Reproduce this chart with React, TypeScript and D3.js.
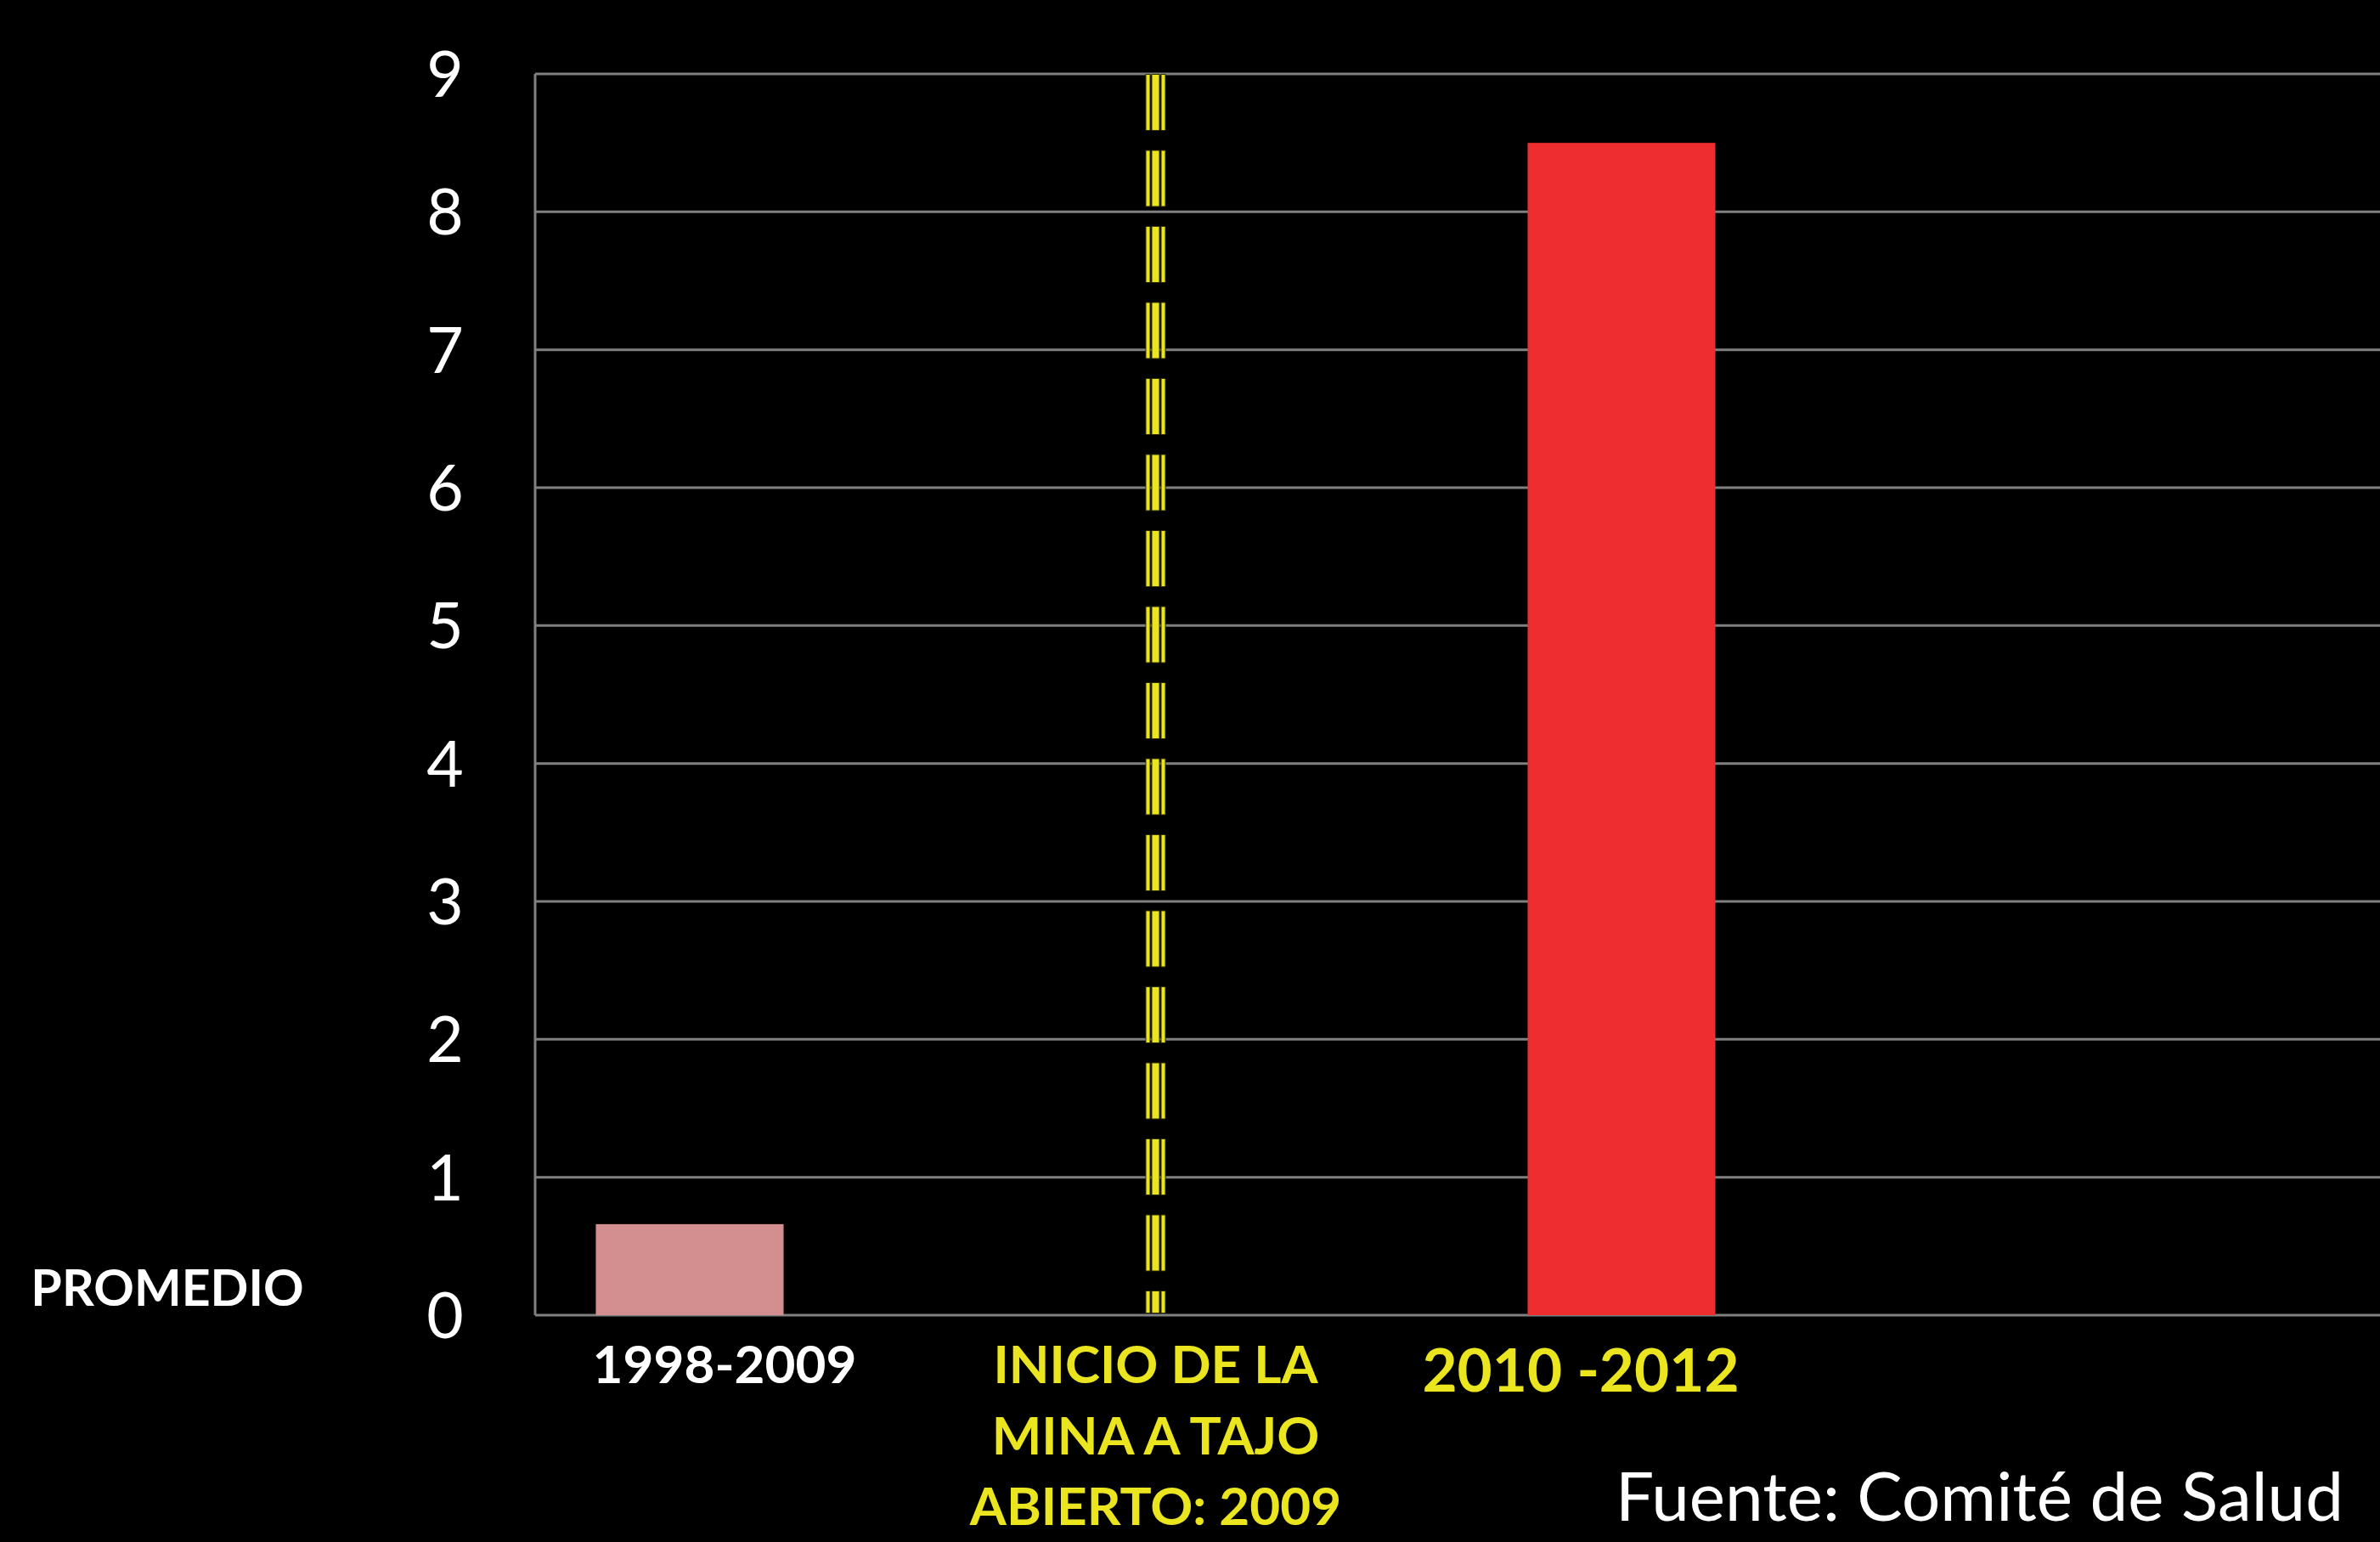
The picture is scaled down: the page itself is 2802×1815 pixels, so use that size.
import React, { useEffect } from "react";
import * as d3 from "d3";

// data
const periods = ["1998-2009", "2010 -2012"];
const promedio = [0.66, 8.5];
const yTicks = [0, 1, 2, 3, 4, 5, 6, 7, 8, 9];
const markerYear = "2009";
const markerLabel = ["INICIO DE LA", "MINA A TAJO", "ABIERTO: 2009"];
const rowLabel = "PROMEDIO";
const source = "Fuente: Comité de Salud";

const W = 2802;
const H = 1815;
const FONT = "Lato, 'Open Sans', sans-serif";
const YELLOW = "#ebe51f";
const GRID = "#7f8080";
const barColors = ["#d38f8f", "#ee2e2e"];

const App: React.FC = () => {
    useEffect(() => {
        document.body.style.margin = "0";
        document.body.style.background = "#000";
    }, []);

    const marginLeft = 630;
    const marginTop = 87;
    const baseY = 1548;

    const y = d3.scaleLinear().domain([0, 9]).range([baseY, marginTop]);

    // bars and the marker line sit on evenly spaced slots
    const x = d3.scalePoint<string>()
        .domain([periods[0], markerYear, periods[1]])
        .range([812, 1909]);
    const barW = x.step() * 0.403;
    const mx = x(markerYear)!;

    // category labels are nudged off the bar centres, as in the slide
    const labelShift = [41, -48];
    const labelSize = [62, 71];
    const labelBase = [1628, 1638];
    const labelFill = ["#ffffff", YELLOW];

    const stripes = [
        { dx: -9, w: 4 },
        { dx: 0, w: 8 },
        { dx: 9, w: 4 },
    ];
    const dash = "67 22.5";

    return (
        <svg width={W} height={H} style={{ display: "block", background: "#000" }}>
            <rect x={0} y={0} width={W} height={H} fill="#000" />

            {/* gridlines */}
            {yTicks.map((t) => (
                <line key={"g" + t} x1={marginLeft} x2={W} y1={y(t)} y2={y(t)}
                    stroke={GRID} strokeWidth={3} />
            ))}
            <line x1={marginLeft} x2={marginLeft} y1={y(9)} y2={y(0)}
                stroke={GRID} strokeWidth={3} />

            {/* tick labels */}
            {yTicks.map((t) => (
                <text key={"t" + t} x={524} y={y(t)} dy="0.36em" textAnchor="middle"
                    fontFamily={FONT} fontSize={75} fill="#fff">{t}</text>
            ))}

            {/* bars */}
            {periods.map((p, i) => (
                <rect key={p} x={x(p)! - barW / 2} y={y(promedio[i])}
                    width={barW} height={y(0) - y(promedio[i])} fill={barColors[i]} />
            ))}

            {/* open-pit mine start marker */}
            {stripes.map((s, i) => (
                <g key={"s" + i}>
                    <line x1={mx + s.dx} x2={mx + s.dx} y1={y(9)} y2={y(0) - 2}
                        stroke="#2e2c00" strokeWidth={s.w + 2} strokeDasharray={dash} />
                    <line x1={mx + s.dx} x2={mx + s.dx} y1={y(9) + 1} y2={y(0) - 3}
                        stroke={YELLOW} strokeWidth={s.w} strokeDasharray="65 24.5" />
                </g>
            ))}

            {/* category labels */}
            {periods.map((p, i) => (
                <text key={"l" + p} x={x(p)! + labelShift[i]} y={labelBase[i]}
                    textAnchor="middle" fontFamily={FONT} fontWeight={700}
                    fontSize={labelSize[i]} fill={labelFill[i]}>{p}</text>
            ))}
            {markerLabel.map((s, i) => (
                <text key={"m" + i} x={mx} y={1628 + i * 83.5} textAnchor="middle"
                    fontFamily={FONT} fontWeight={700} fontSize={62} fill={YELLOW}>{s}</text>
            ))}

            <text x={197} y={1537} textAnchor="middle" fontFamily={FONT}
                fontWeight={700} fontSize={59} fill="#fff">{rowLabel}</text>

            <text x={1902} y={1790} fontFamily={FONT} fontSize={80} fill="#fff">{source}</text>
        </svg>
    );
};

export default App;
